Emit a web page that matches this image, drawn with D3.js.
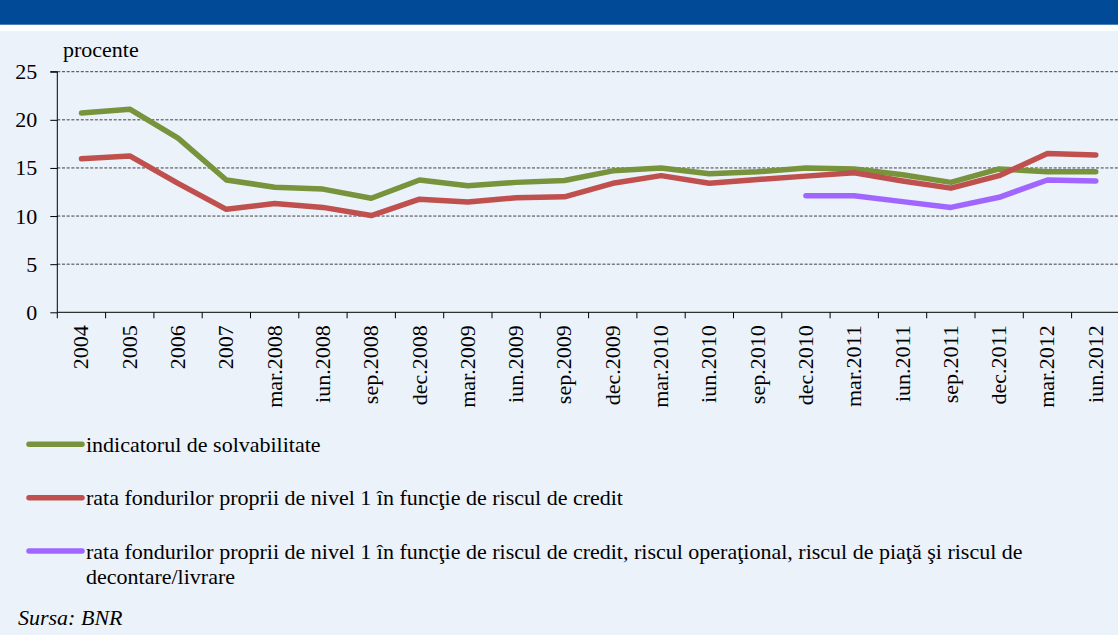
<!DOCTYPE html>
<html>
  <head>
    <meta charset="UTF-8" />
    <script src="https://d3js.org/d3.v7.min.js"></script>
  </head>
  <body style="margin:0">
    <div id="chart"></div>
    <script>
      // date (procente)
      const categorii = ["2004", "2005", "2006", "2007", "mar.2008", "iun.2008", "sep.2008", "dec.2008",
        "mar.2009", "iun.2009", "sep.2009", "dec.2009", "mar.2010", "iun.2010", "sep.2010", "dec.2010",
        "mar.2011", "iun.2011", "sep.2011", "dec.2011", "mar.2012", "iun.2012"];
      const solvabilitate = [20.7, 21.1, 18.1, 13.75, 13.0, 12.8, 11.85, 13.75, 13.15, 13.5, 13.7, 14.7,
        15.0, 14.4, 14.6, 15.0, 14.9, 14.3, 13.5, 14.9, 14.6, 14.6];
      const nivel1Credit = [15.95, 16.25, 13.4, 10.7, 11.3, 10.9, 10.05, 11.75, 11.45, 11.9, 12.0, 13.4,
        14.2, 13.4, 13.8, 14.15, 14.5, 13.65, 12.9, 14.2, 16.5, 16.35];
      const nivel1Total = [null, null, null, null, null, null, null, null, null, null, null, null,
        null, null, null, 12.1, 12.1, 11.5, 10.9, 11.95, 13.75, 13.65];
      const yTicks = [0, 5, 10, 15, 20, 25];
      const serii = [
        { nume: "indicatorul de solvabilitate", valori: solvabilitate, culoare: "#77933C" },
        { nume: "rata fondurilor proprii de nivel 1 în funcţie de riscul de credit", valori: nivel1Credit, culoare: "#C0504D" },
        { nume: ["rata fondurilor proprii de nivel 1 în funcţie de riscul de credit, riscul operaţional, riscul de piaţă şi riscul de", "decontare/livrare"], valori: nivel1Total, culoare: "#A066FF" }
      ];

      const width = 1118, height = 635;
      const serif = "'Liberation Serif', 'Times New Roman', serif";
      const svg = d3.select("#chart").append("svg")
        .attr("width", width)
        .attr("height", height)
        .style("font-family", serif);

      // fundal + banda de titlu
      svg.append("rect").attr("width", width).attr("height", height).attr("fill", "#EBF2FA");
      svg.append("rect").attr("width", width).attr("height", 31).attr("fill", "#fff");
      svg.append("rect").attr("width", width).attr("height", 24.7).attr("fill", "#004A97");

      const left = 57.3, band = 48.3;
      const x = d3.scaleBand()
        .domain(categorii)
        .range([left, left + band * categorii.length]);
      const y = d3.scaleLinear().domain([0, 25]).range([312.3, 71.7]);

      // grila
      svg.append("g")
        .selectAll("line")
        .data(yTicks.filter(d => d > 0))
        .join("line")
        .attr("x1", left).attr("x2", width)
        .attr("y1", d => y(d)).attr("y2", d => y(d))
        .attr("stroke", "#404040")
        .attr("stroke-width", 1)
        .attr("stroke-dasharray", "3,1.7");

      // axa y
      const yAxis = svg.append("g")
        .attr("transform", "translate(" + left + ",0)")
        .call(d3.axisLeft(y).tickValues(yTicks).tickSize(7).tickPadding(13));
      yAxis.attr("font-family", null).attr("font-size", null);
      yAxis.selectAll("path, line").attr("stroke", "#000");
      yAxis.select(".domain").attr("d", "M-7," + y(25) + "H0V" + y(0));
      yAxis.selectAll("text")
        .style("font-family", serif)
        .style("font-size", "22px");

      svg.append("text")
        .attr("x", 63)
        .attr("y", 57)
        .style("font-family", serif)
        .style("font-size", "22px")
        .text("procente");

      // axa x
      const xg = svg.append("g");
      xg.append("line")
        .attr("x1", left).attr("x2", width)
        .attr("y1", y(0)).attr("y2", y(0))
        .attr("stroke", "#000");
      xg.selectAll(".tick")
        .data(categorii.concat(["end"]))
        .join("line")
        .attr("x1", (d, i) => i < categorii.length ? x(d) : x.range()[1])
        .attr("x2", (d, i) => i < categorii.length ? x(d) : x.range()[1])
        .attr("y1", y(0)).attr("y2", y(0) + 6)
        .attr("stroke", "#000");
      xg.selectAll("text")
        .data(categorii)
        .join("text")
        .attr("transform", d => "translate(" + (x(d) + x.bandwidth() / 2 + 7) + "," + (y(0) + 13) + ") rotate(-90)")
        .attr("text-anchor", "end")
        .style("font-family", serif)
        .style("font-size", "22px")
        .text(d => d);

      // liniile
      const line = d3.line()
        .defined(d => d != null)
        .x((d, i) => x(categorii[i]) + x.bandwidth() / 2)
        .y(d => y(d));

      svg.append("g")
        .selectAll("path")
        .data(serii)
        .join("path")
        .attr("d", d => line(d.valori))
        .attr("fill", "none")
        .attr("stroke", d => d.culoare)
        .attr("stroke-width", 5.5)
        .attr("stroke-linejoin", "round")
        .attr("stroke-linecap", "round");

      // legenda
      const legendY = [444.3, 497.7, 551];
      const leg = svg.append("g")
        .selectAll("g")
        .data(serii)
        .join("g")
        .attr("transform", (d, i) => "translate(0," + legendY[i] + ")");
      leg.append("line")
        .attr("x1", 29).attr("x2", 82)
        .attr("stroke", d => d.culoare)
        .attr("stroke-width", 5.5)
        .attr("stroke-linecap", "round");
      leg.append("text")
        .attr("x", 86)
        .attr("y", 7.5)
        .style("font-family", serif)
        .style("font-size", "22px")
        .selectAll("tspan")
        .data(d => Array.isArray(d.nume) ? d.nume : [d.nume])
        .join("tspan")
        .attr("x", 86)
        .attr("dy", (d, i) => i == 0 ? 0 : 25.5)
        .text(d => d);

      svg.append("text")
        .attr("x", 18)
        .attr("y", 625)
        .style("font-family", serif)
        .style("font-size", "22px")
        .style("font-style", "italic")
        .text("Sursa: BNR");
    </script>
  </body>
</html>
